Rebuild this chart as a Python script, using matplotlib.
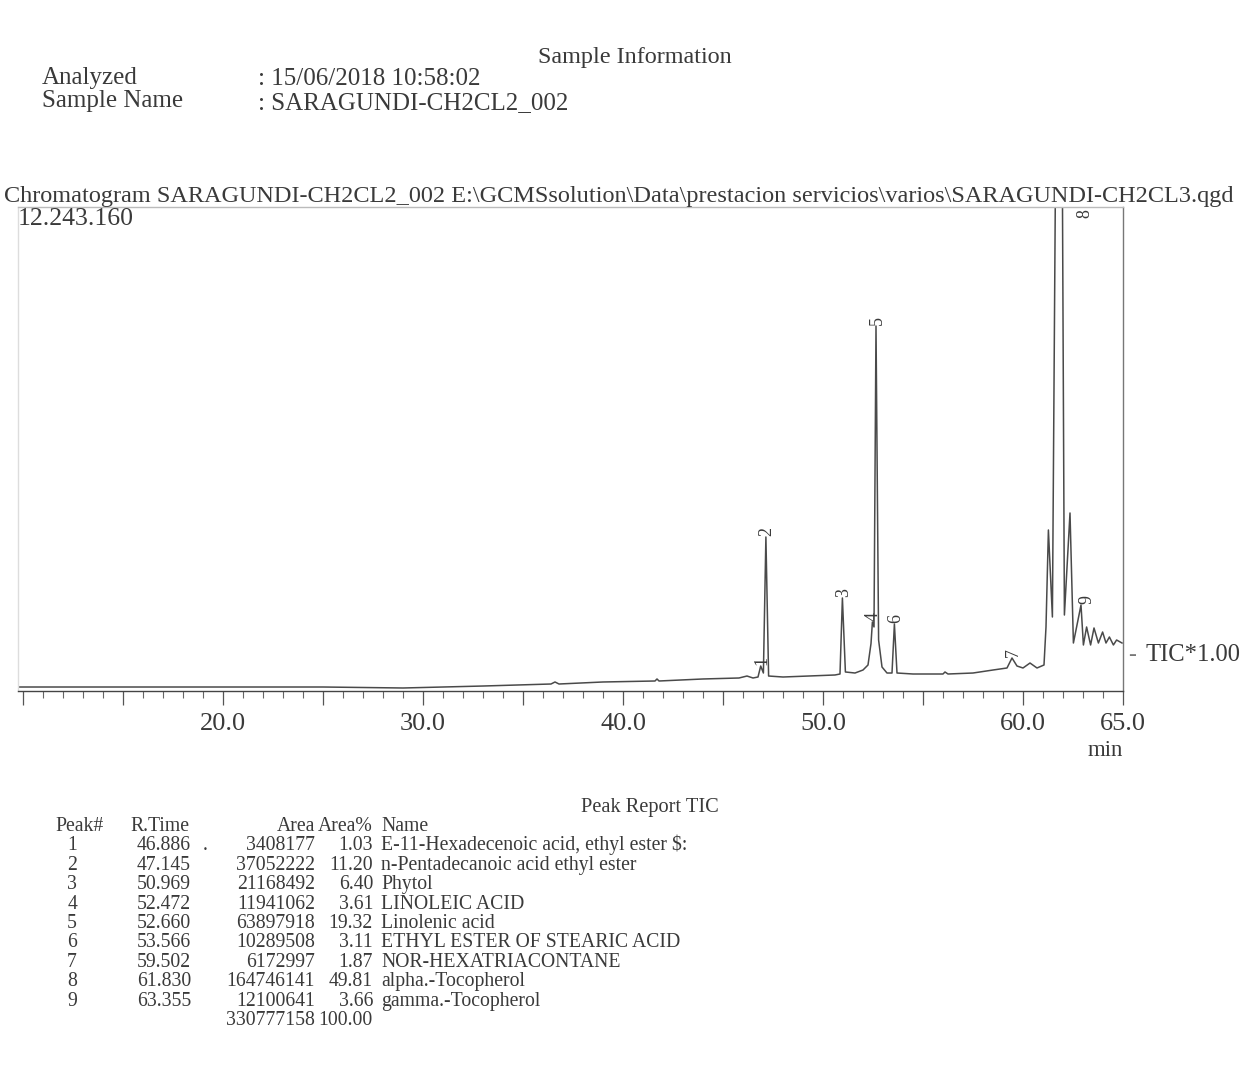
import matplotlib.pyplot as plt
from matplotlib.ticker import FixedLocator, MultipleLocator, FixedFormatter

plt.rcParams['font.family'] = ['Liberation Serif', 'DejaVu Serif']

W, H = 1249, 1065

# TIC trace: retention time (min) and counts
trace_time = [9.75, 15.0, 20.0, 25.0, 29.0, 33.0, 36.4, 36.6, 36.8, 39.0,
              41.6, 41.7, 41.8, 44.0, 45.8, 46.2, 46.5, 46.75, 46.886, 47.02,
              47.145, 47.28, 48.0, 50.6, 50.85, 50.97, 51.12, 51.6, 52.0, 52.25,
              52.4, 52.47, 52.55, 52.65, 52.78, 52.95, 53.2, 53.45, 53.57, 53.7,
              54.5, 56.0, 56.1, 56.25, 57.5, 58.5, 59.2, 59.45, 59.7, 60.0,
              60.35, 60.7, 61.05, 61.15, 61.27, 61.47, 61.83, 62.07, 62.35, 62.52,
              62.9, 63.02, 63.18, 63.38, 63.55, 63.77, 63.98, 64.15, 64.32, 64.52,
              64.68, 64.95]
trace_tic = [101e3, 101e3, 101e3, 101e3, 76e3, 126e3, 177e3, 228e3, 177e3, 228e3,
             253e3, 304e3, 253e3, 304e3, 329e3, 379e3, 329e3, 354e3, 632e3, 455e3,
             3896e3, 379e3, 354e3, 405e3, 430e3, 2353e3, 481e3, 455e3, 531e3, 658e3,
             1200e3, 1746e3, 1620e3, 9233e3, 1290e3, 607e3, 455e3, 455e3, 1695e3, 455e3,
             430e3, 430e3, 481e3, 430e3, 455e3, 531e3, 582e3, 835e3, 632e3, 582e3,
             708e3, 582e3, 658e3, 1620e3, 4073e3, 1872e3, 28000e3, 1922e3, 4503e3, 1214e3,
             2175e3, 1164e3, 1619e3, 1164e3, 1594e3, 1214e3, 1492e3, 1214e3, 1366e3, 1164e3,
             1290e3, 1214e3]

y_max = 12243160

# peak numbers as printed on the trace
peak_no = [1, 2, 3, 4, 5, 6, 7, 8, 9]
peak_time = [46.886, 47.145, 50.97, 52.47, 52.65, 53.57, 59.45, 61.83, 62.9]
peak_tic = [632e3, 3896e3, 2353e3, 1746e3, 9233e3, 1695e3, 835e3, 28000e3, 2175e3]

# peak report table
tbl_rtime = ['46.886', '47.145', '50.969', '52.472', '52.660', '53.566', '59.502', '61.830', '63.355']
tbl_area = ['3408177', '37052222', '21168492', '11941062', '63897918', '10289508',
            '6172997', '164746141', '12100641']
tbl_pct = ['1.03', '11.20', '6.40', '3.61', '19.32', '3.11', '1.87', '49.81', '3.66']
tbl_name = ['E-11-Hexadecenoic acid, ethyl ester $:', 'n-Pentadecanoic acid ethyl ester',
            'Phytol', 'LINOLEIC ACID', 'Linolenic acid', 'ETHYL ESTER OF STEARIC ACID',
            'NOR-HEXATRIACONTANE', 'alpha.-Tocopherol', 'gamma.-Tocopherol']
total_area = '330777158'
total_pct = '100.00'

ink = '#3a3a3a'

fig = plt.figure(figsize=(W / 100, H / 100), dpi=100)


def ftxt(x, y, s, **kw):
    # place text by pixel position on the page
    kw.setdefault('color', ink)
    return fig.text(x / W, 1 - y / H, s, **kw)


# header
hs = 18
ftxt(635, 63, 'Sample Information', fontsize=17.4, ha='center', va='baseline')
ftxt(42, 84, 'Analyzed', fontsize=hs, va='baseline')
ftxt(42, 107, 'Sample Name', fontsize=hs, va='baseline')
ftxt(258, 85, ': 15/06/2018 10:58:02', fontsize=hs, va='baseline')
ftxt(258, 109, ': SARAGUNDI-CH2CL2_002', fontsize=hs, va='baseline')
ftxt(4, 202, r'Chromatogram SARAGUNDI-CH2CL2_002 E:\GCMSsolution\Data\prestacion servicios\varios\SARAGUNDI-CH2CL3.qgd',
     fontsize=17.5, va='baseline')
ftxt(18, 225, '12.243.160', fontsize=18.5, va='baseline')

# chromatogram
ax = fig.add_axes([18 / W, 1 - 691 / H, (1123 - 18) / W, (691 - 207) / H])
ax.plot(trace_time, trace_tic, color='#4a4a4a', lw=1.1)
ax.set_xlim(9.75, 65.0)
ax.set_ylim(0, y_max)

for n, t, v in zip(peak_no, peak_time, peak_tic):
    if v > y_max:
        ax.text(t + 1.25, y_max * 0.995, str(n), rotation=90, fontsize=13,
                ha='center', va='top', color=ink)
    else:
        dx = 0.3 if n == 9 else 0.05
        ax.text(t + dx, v + 15e3, str(n), rotation=90, fontsize=13,
                ha='center', va='bottom', color=ink)

ax.spines['bottom'].set_color('#444444')
ax.spines['right'].set_color('#777777')
ax.spines['top'].set_color('#bbbbbb')
ax.spines['left'].set_color('#dddddd')
for s in ax.spines.values():
    s.set_linewidth(1.0)

ax.set_yticks([])
ax.xaxis.set_major_locator(FixedLocator([10, 15, 20, 25, 30, 35, 40, 45, 50, 55, 60, 65]))
ax.xaxis.set_major_formatter(FixedFormatter(['', '', '20.0', '', '30.0', '', '40.0', '',
                                             '50.0', '', '60.0', '65.0']))
ax.xaxis.set_minor_locator(MultipleLocator(1))
ax.tick_params(axis='x', which='major', length=10, width=0.9, color='#555555',
               labelsize=19, labelcolor=ink, pad=6)
ax.tick_params(axis='x', which='minor', length=5, width=0.8, color='#666666')

ftxt(1105, 756, 'min', fontsize=16.5, ha='center', va='baseline')
ftxt(1128, 661, '-', fontsize=17, va='baseline', color='#777777')
ftxt(1146, 661, 'TIC*1.00', fontsize=17.7, va='baseline')

# peak report
ts = 14.2
ftxt(650, 812, 'Peak Report TIC', fontsize=14.7, ha='center', va='baseline')
row0 = 831
dy = 19.4
x_area = 315
x_pct = 373
ftxt(55, row0, 'Peak#', fontsize=ts, va='baseline')
ftxt(130, row0, 'R.Time', fontsize=ts, va='baseline')
ftxt(x_area, row0, 'Area', fontsize=ts, ha='right', va='baseline')
ftxt(x_pct, row0, 'Area%', fontsize=ts, ha='right', va='baseline')
ftxt(381, row0, 'Name', fontsize=ts, va='baseline')
for i in range(len(tbl_name)):
    y = row0 + dy * (i + 1)
    ftxt(77, y, str(peak_no[i]), fontsize=ts, ha='right', va='baseline')
    ftxt(191, y, tbl_rtime[i], fontsize=ts, ha='right', va='baseline')
    ftxt(x_area, y, tbl_area[i], fontsize=ts, ha='right', va='baseline')
    ftxt(x_pct, y, tbl_pct[i], fontsize=ts, ha='right', va='baseline')
    ftxt(381, y, tbl_name[i], fontsize=ts, va='baseline')
ftxt(203, row0 + dy, '.', fontsize=ts, va='baseline')
y = row0 + dy * (len(tbl_name) + 1)
ftxt(x_area, y, total_area, fontsize=ts, ha='right', va='baseline')
ftxt(x_pct, y, total_pct, fontsize=ts, ha='right', va='baseline')

fig.savefig('out.png', dpi=100, facecolor='white')
